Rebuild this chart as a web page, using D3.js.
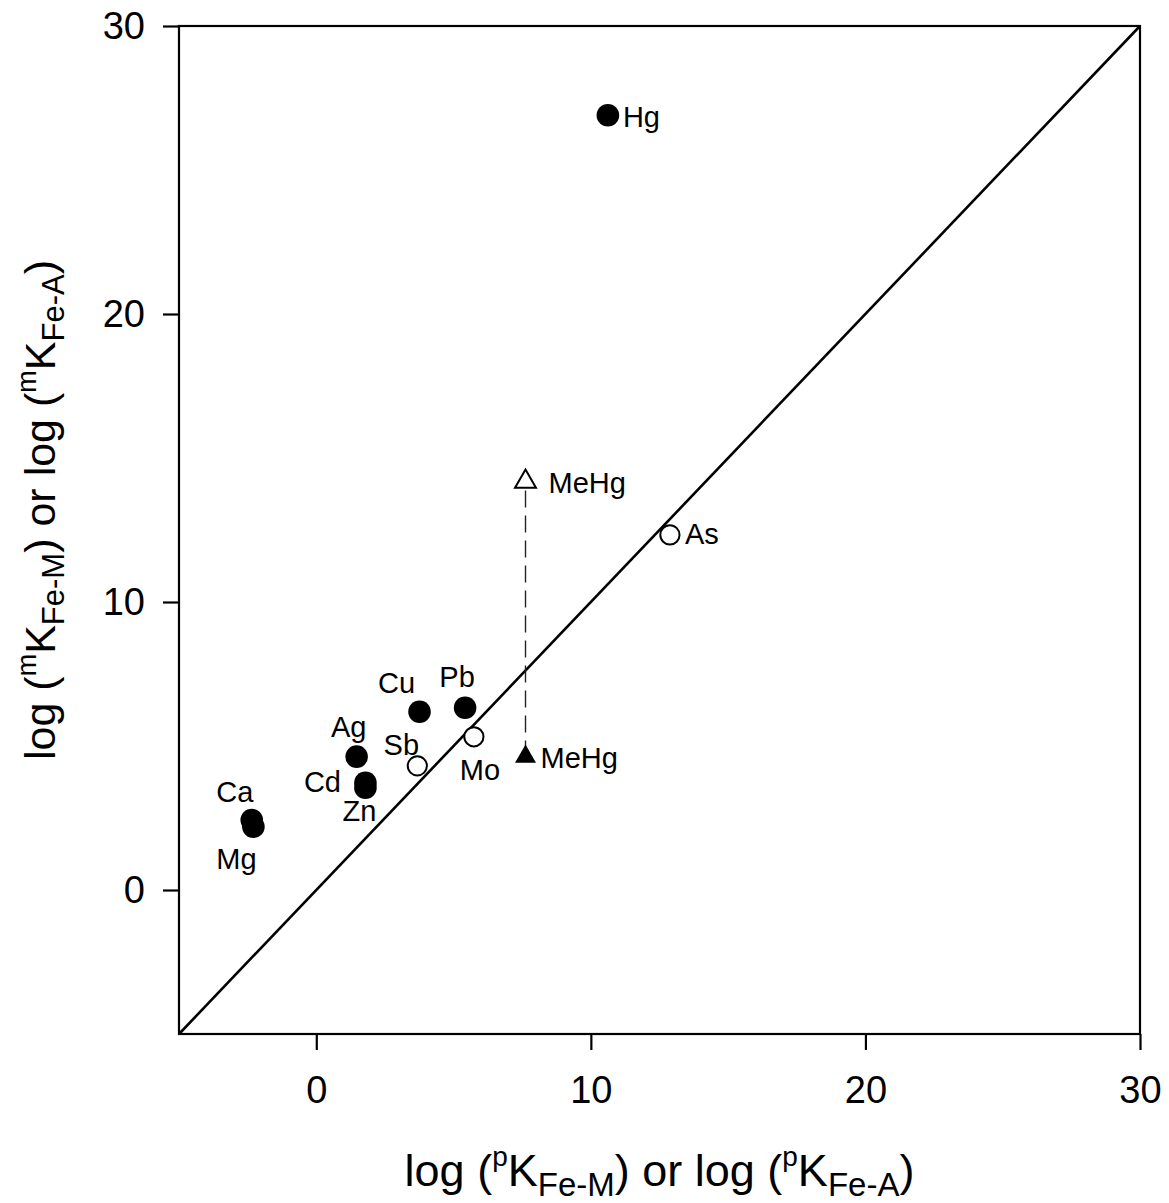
<!DOCTYPE html>
<html>
<head>
<meta charset="utf-8">
<script src="https://cdn.jsdelivr.net/npm/d3@7"></script>
<style>
  html, body { margin: 0; padding: 0; background: #fff; }
  svg text { font-family: "Liberation Sans", Arial, sans-serif; fill: #000; }
</style>
</head>
<body>
<svg id="chart" width="1169" height="1203"></svg>
<script>
// Partition coefficients: predicted (x) vs measured (y), log units
const elements = ["Hg", "Cu", "Pb", "Ag", "Cd", "Zn", "Ca", "Mg", "Sb", "Mo", "As", "MeHg", "MeHg"];
const xValues  = [10.62, 3.76, 5.42, 1.47, 1.79, 1.79, -2.35, -2.29, 3.68, 5.74, 12.88, 7.62, 7.62];
const yValues  = [26.9, 6.19, 6.33, 4.63, 3.72, 3.55, 2.43, 2.20, 4.31, 5.32, 12.33, 4.63, 14.18];
const markers  = ["circle", "circle", "circle", "circle", "circle", "circle", "circle", "circle",
                  "openCircle", "openCircle", "openCircle", "triangle", "openTriangle"];
const xTicks = [0, 10, 20, 30];
const yTicks = [0, 10, 20, 30];
const xDomain = [-5, 30];
const yDomain = [-5, 30];

// label placement relative to each marker (dx, dy, anchor)
const labelLayout = [
  [15, 12, "start"], [-23, -19, "middle"], [-8, -21, "middle"], [-8, -20, "middle"],
  [-43, 9, "middle"], [-6, 33, "middle"], [-17, -18, "middle"], [-17, 42, "middle"],
  [-16, -11, "middle"], [6, 43, "middle"], [15, 9, "start"], [15, 11, "start"], [23, 11, "start"]
];

const svg = d3.select("#chart");
const plotLeft = 179, plotRight = 1140, plotTop = 26, plotBottom = 1034;

const x = d3.scaleLinear().domain(xDomain).range([plotLeft, plotRight]);
const y = d3.scaleLinear().domain(yDomain).range([plotBottom, plotTop]);

// frame
svg.append("rect")
  .attr("x", plotLeft).attr("y", plotTop)
  .attr("width", plotRight - plotLeft).attr("height", plotBottom - plotTop)
  .attr("fill", "none").attr("stroke", "#000").attr("stroke-width", 2.2);

// axes
const xAxis = d3.axisBottom(x).tickValues(xTicks).tickSize(16).tickPadding(26).tickFormat(d3.format("d"));
const yAxis = d3.axisLeft(y).tickValues(yTicks).tickSize(16).tickPadding(18).tickFormat(d3.format("d"));

const gx = svg.append("g").attr("transform", `translate(0,${plotBottom})`).call(xAxis);
const gy = svg.append("g").attr("transform", `translate(${plotLeft},0)`).call(yAxis);
[gx, gy].forEach(g => {
  g.select(".domain").remove();
  g.selectAll(".tick line").attr("stroke", "#000").attr("stroke-width", 2.2);
  g.selectAll(".tick text").attr("font-size", 38).attr("fill", "#000")
    .style("font-family", "'Liberation Sans', Arial, sans-serif");
});

// 1:1 line
svg.append("line")
  .attr("x1", x(-5)).attr("y1", y(-5))
  .attr("x2", x(30)).attr("y2", y(30))
  .attr("stroke", "#000").attr("stroke-width", 2.6);

// dashed link between the two MeHg estimates
const iLow = 11, iHigh = 12;
svg.append("line")
  .attr("x1", x(xValues[iHigh])).attr("y1", y(yValues[iHigh]) + 9)
  .attr("x2", x(xValues[iLow])).attr("y2", y(yValues[iLow]) - 10)
  .attr("stroke", "#222").attr("stroke-width", 1.4)
  .attr("stroke-dasharray", "17,8");

// markers
const points = elements.map((e, i) => ({ name: e, x: xValues[i], y: yValues[i], m: markers[i], lab: labelLayout[i] }));
const tri = d3.symbol().type(d3.symbolTriangle).size(190);

points.forEach(p => {
  const cx = x(p.x), cy = y(p.y);
  if (p.m === "circle") {
    svg.append("circle").attr("cx", cx).attr("cy", cy).attr("r", 11.3).attr("fill", "#000");
  } else if (p.m === "openCircle") {
    svg.append("circle").attr("cx", cx).attr("cy", cy).attr("r", 9.6)
      .attr("fill", "#fff").attr("stroke", "#000").attr("stroke-width", 2);
  } else if (p.m === "triangle") {
    svg.append("path").attr("d", tri).attr("transform", `translate(${cx},${cy})`).attr("fill", "#000");
  } else {
    svg.append("path").attr("d", tri).attr("transform", `translate(${cx},${cy})`)
      .attr("fill", "#fff").attr("stroke", "#000").attr("stroke-width", 2);
  }
});

// point labels
points.forEach(p => {
  svg.append("text")
    .attr("x", x(p.x) + p.lab[0]).attr("y", y(p.y) + p.lab[1])
    .attr("text-anchor", p.lab[2])
    .attr("font-size", 29)
    .text(p.name);
});

// axis titles with super/subscripts
function title(sel, sup, subA, subB, k) {
  const supSize = Math.round(k * 0.62), subSize = Math.round(k * 0.73);
  const up = Math.round(k * 0.45), down = Math.round(k * 0.22);
  sel.append("tspan").text("log (");
  sel.append("tspan").attr("font-size", supSize).attr("dy", -up).text(sup);
  sel.append("tspan").attr("dy", up).text("K");
  sel.append("tspan").attr("font-size", subSize).attr("dy", down).text(subA);
  sel.append("tspan").attr("dy", -down).text(") or log (");
  sel.append("tspan").attr("font-size", supSize).attr("dy", -up).text(sup);
  sel.append("tspan").attr("dy", up).text("K");
  sel.append("tspan").attr("font-size", subSize).attr("dy", down).text(subB);
  sel.append("tspan").attr("dy", -down).text(")");
}

const xt = svg.append("text")
  .attr("x", (plotLeft + plotRight) / 2).attr("y", 1186)
  .attr("text-anchor", "middle").attr("font-size", 45);
title(xt, "p", "Fe-M", "Fe-A", 45);

const yt = svg.append("text")
  .attr("transform", `translate(55,510) rotate(-90)`)
  .attr("text-anchor", "middle").attr("font-size", 43);
title(yt, "m", "Fe-M", "Fe-A", 43);
</script>
</body>
</html>
